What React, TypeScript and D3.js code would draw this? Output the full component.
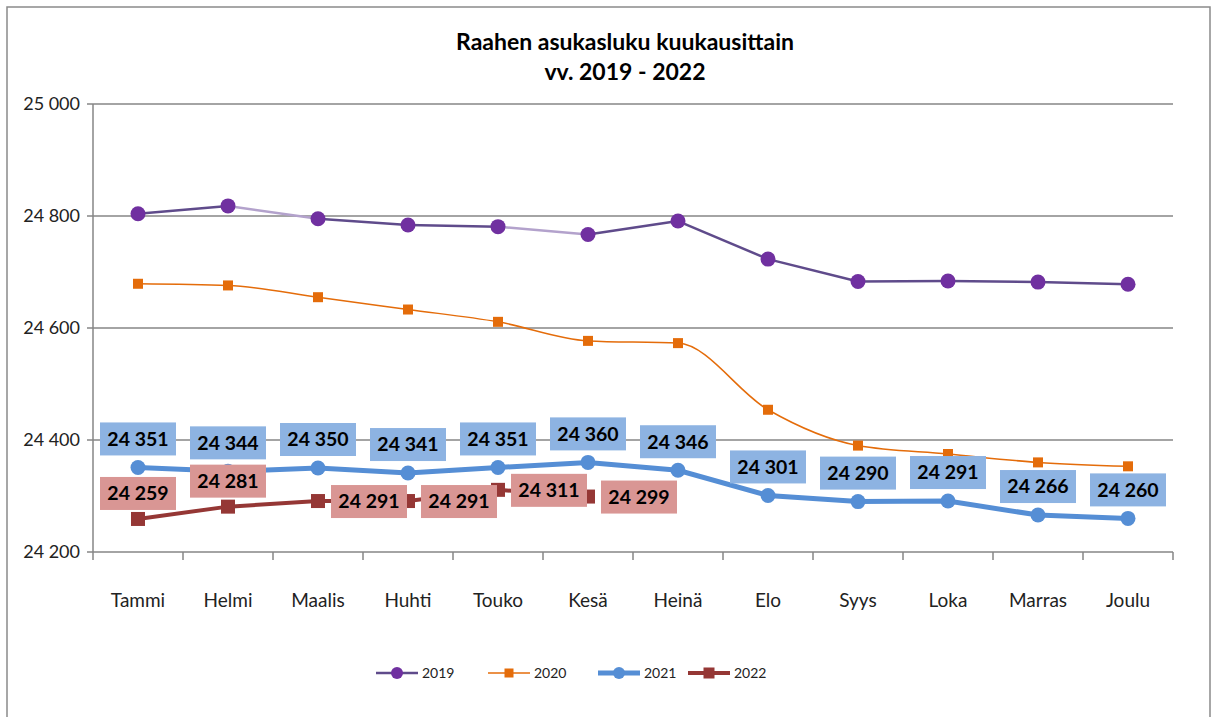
import * as React from "react";
import { scaleBand, scaleLinear, line, curveLinear, curveMonotoneX } from "d3";

const months = ["Tammi", "Helmi", "Maalis", "Huhti", "Touko", "Kesä", "Heinä", "Elo", "Syys", "Loka", "Marras", "Joulu"];
const v2019 = [24804, 24818, 24795, 24784, 24781, 24767, 24791, 24723, 24683, 24684, 24682, 24678];
const v2020 = [24679, 24676, 24655, 24633, 24611, 24577, 24573, 24454, 24390, 24375, 24360, 24353];
const v2021 = [24351, 24344, 24350, 24341, 24351, 24360, 24346, 24301, 24290, 24291, 24266, 24260];
const v2022 = [24259, 24281, 24291, 24291, 24311, 24299];
const yTicks = [24200, 24400, 24600, 24800, 25000];
// 2019 segments drawn lighter in the original (start index of the segment)
const light2019 = [1, 4];
// 2022 label placement
const place2022 = ["above", "above", "right", "right", "right", "right"];

const W = 1217;
const H = 717;
const FONT = "Lato, 'Open Sans', sans-serif";
const fmt = (v: number) => `${Math.floor(v / 1000)} ${String(v % 1000).padStart(3, "0")}`;

export default function App() {
  const x = scaleBand().domain(months).range([93, 1173]);
  const y = scaleLinear().domain([24200, 25000]).range([552, 104]);
  const cx = (i: number) => (x(months[i]) as number) + x.bandwidth() / 2;

  const path = (vals: number[], curve: any) =>
    line<number>().x((_, i) => cx(i)).y((d) => y(d)).curve(curve)(vals) as string;

  const label = (text: string, px: number, py: number, fill: string, key: string) => (
    <g key={key}>
      <rect x={px - 38} y={py - 16} width={76} height={33} fill={fill} />
      <text x={px} y={py} dy="0.38em" textAnchor="middle" fontSize={19.5} fontWeight="bold" fill="#000">
        {text}
      </text>
    </g>
  );

  const legend = [
    { name: "2019", color: "#5f4b8b", width: 2.5, marker: "circle", mfill: "#7030a0", size: 6, x: 376 },
    { name: "2020", color: "#e46c0a", width: 1.5, marker: "square", mfill: "#e46c0a", size: 9, x: 488 },
    { name: "2021", color: "#558ed5", width: 5, marker: "circle", mfill: "#558ed5", size: 6, x: 598 },
    { name: "2022", color: "#953735", width: 4, marker: "square", mfill: "#953735", size: 11, x: 688 },
  ];

  return (
    <svg width={W} height={H} style={{ position: "absolute", left: 0, top: 0, background: "#fff" }} fontFamily={FONT}>
      <rect x={7} y={7} width={1203} height={720} fill="#fff" stroke="#8a8a8a" strokeWidth={1.5} />
      <text x={625} y={50} textAnchor="middle" fontSize={23} fontWeight="bold" fill="#000">
        Raahen asukasluku kuukausittain
      </text>
      <text x={625} y={80} textAnchor="middle" fontSize={23} fontWeight="bold" fill="#000">
        vv. 2019 - 2022
      </text>

      {yTicks.map((t) => (
        <g key={t}>
          <line x1={87} x2={1173} y1={y(t)} y2={y(t)} stroke="#868686" strokeWidth={1.5} />
          <text x={80} y={y(t)} dy="0.35em" textAnchor="end" fontSize={18} fill="#222">
            {fmt(t)}
          </text>
        </g>
      ))}
      <line x1={93} x2={93} y1={104} y2={552} stroke="#868686" strokeWidth={1.5} />
      {months.map((m, i) => (
        <g key={m}>
          <line x1={x(m)} x2={x(m)} y1={552} y2={560} stroke="#868686" strokeWidth={1.5} />
          <text x={cx(i)} y={600} dy="0.35em" textAnchor="middle" fontSize={19} fill="#222">
            {m}
          </text>
        </g>
      ))}
      <line x1={1173} x2={1173} y1={552} y2={560} stroke="#868686" strokeWidth={1.5} />

      {/* 2019 */}
      {v2019.slice(0, -1).map((d, i) => (
        <line key={"s" + i} x1={cx(i)} y1={y(d)} x2={cx(i + 1)} y2={y(v2019[i + 1])}
          stroke={light2019.includes(i) ? "#b3a2cc" : "#5f4b8b"} strokeWidth={2.5} />
      ))}
      {v2019.map((d, i) => (
        <circle key={"a" + i} cx={cx(i)} cy={y(d)} r={7.5} fill="#7030a0" />
      ))}

      {/* 2020 */}
      <path d={path(v2020, curveMonotoneX)} fill="none" stroke="#e46c0a" strokeWidth={1.5} />
      {v2020.map((d, i) => (
        <rect key={"b" + i} x={cx(i) - 5} y={y(d) - 5} width={10} height={10} fill="#e46c0a" />
      ))}

      {/* 2021 */}
      <path d={path(v2021, curveLinear)} fill="none" stroke="#558ed5" strokeWidth={5} />
      {v2021.map((d, i) => (
        <circle key={"c" + i} cx={cx(i)} cy={y(d)} r={7.5} fill="#558ed5" />
      ))}

      {/* 2022 */}
      <path d={path(v2022, curveLinear)} fill="none" stroke="#953735" strokeWidth={4} />
      {v2022.map((d, i) => (
        <rect key={"d" + i} x={cx(i) - 7} y={y(d) - 7} width={14} height={14} fill="#953735" />
      ))}

      {v2021.map((d, i) => label(fmt(d), cx(i), y(d) - 29, "#8db3e2", "l1" + i))}
      {v2022.map((d, i) =>
        place2022[i] === "above"
          ? label(fmt(d), cx(i), y(d) - 26, "#d99694", "l2" + i)
          : label(fmt(d), cx(i) + 51, y(d), "#d99694", "l2" + i)
      )}

      {legend.map((l) => (
        <g key={l.name}>
          <line x1={l.x} x2={l.x + 42} y1={673} y2={673} stroke={l.color} strokeWidth={l.width} />
          {l.marker === "circle" ? (
            <circle cx={l.x + 21} cy={673} r={l.size} fill={l.mfill} />
          ) : (
            <rect x={l.x + 21 - l.size / 2} y={673 - l.size / 2} width={l.size} height={l.size} fill={l.mfill} />
          )}
          <text x={l.x + 46} y={673} dy="0.35em" fontSize={14} fill="#222">
            {l.name}
          </text>
        </g>
      ))}
    </svg>
  );
}
